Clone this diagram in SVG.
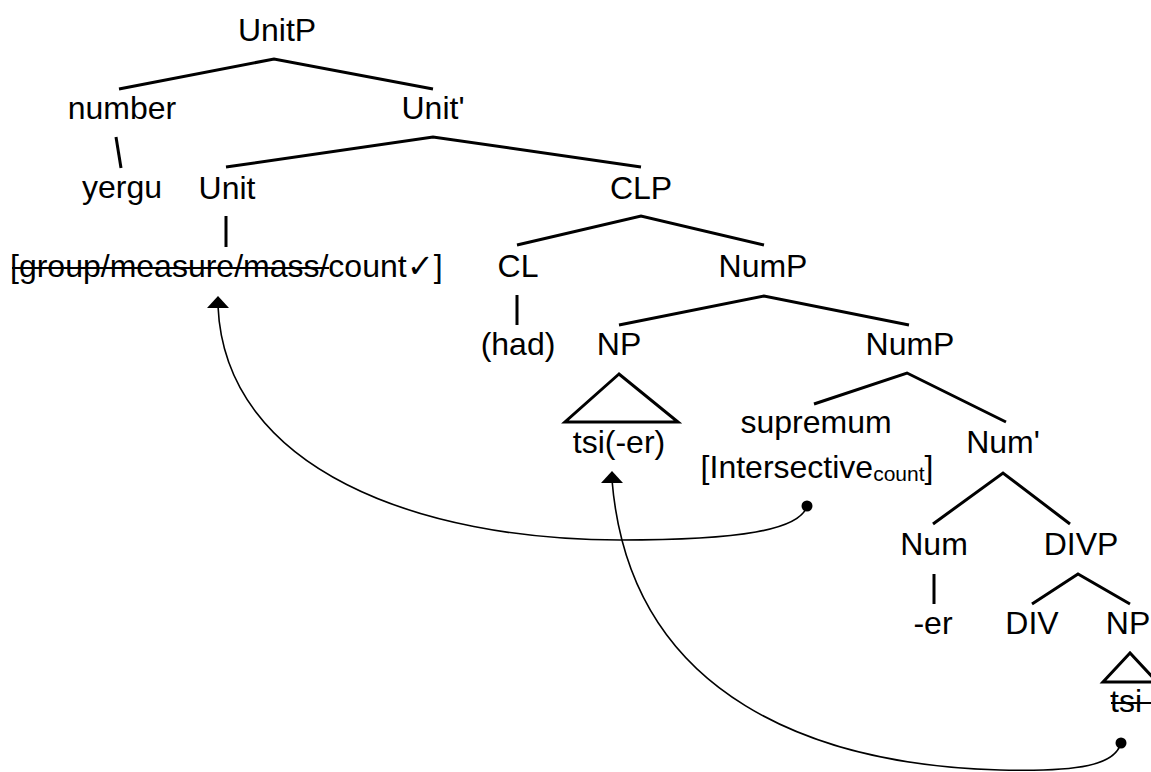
<svg xmlns="http://www.w3.org/2000/svg" width="1151" height="772" viewBox="0 0 1151 772">
<defs>
<style>
text{font-family:"Liberation Sans",Arial,sans-serif;font-size:32px;fill:#000;text-anchor:middle}
.branch{stroke:#000;stroke-width:3;fill:none;stroke-linecap:butt}
.mv{stroke:#000;stroke-width:1.6;fill:none}
.head{fill:#000}
.strike{stroke:#000;stroke-width:1.8}
</style>
</defs>
<rect width="1151" height="772" fill="#fff"/>
<g id="connectors">
<path class="branch" d="M119,89 L274,59 L433,89"/>
<path class="branch" d="M116,137 L121,168"/>
<path class="branch" d="M226,167 L433,137 L641,167"/>
<path class="branch" d="M226,216 L226,247"/>
<path class="branch" d="M517,245 L641,216 L764,245"/>
<path class="branch" d="M517,295 L517,325"/>
<path class="branch" d="M619,325 L764,296 L909,325"/>
<path class="branch" d="M814,404 L907,373 L1006,422"/>
<path class="branch" d="M933,524 L1003,473 L1070,524"/>
<path class="branch" d="M934,574 L934,604"/>
<path class="branch" d="M1032,604 L1078,574 L1130,604"/>
<path class="mv" d="M807,506 C800,530 740,540 620,540 C420,540 225,470 218,306"/>
<path class="head" d="M218,296 L207,308 L229,308 Z"/>
<circle class="head" cx="807" cy="506" r="5.5"/>
<path class="mv" d="M1121,743 C1115,765 1080,772 1000,770 C820,765 630,700 612,480"/>
<path class="head" d="M612,471 L601,483 L623,483 Z"/>
<circle class="head" cx="1121" cy="743" r="5.5"/>
</g>
<g id="n-UnitP"><text x="277" y="41">UnitP</text></g>
<g id="n-number"><text x="122" y="119">number</text></g>
<g id="n-Unitbar"><text x="433" y="119">Unit'</text></g>
<g id="n-yergu"><text x="122" y="198">yergu</text></g>
<g id="n-Unit"><text x="227" y="199">Unit</text></g>
<g id="n-CLP"><text x="641" y="199">CLP</text></g>
<g id="n-features"><text x="10" y="277" style="text-anchor:start">[group/measure/mass/count✓]</text><line class="strike" x1="12" y1="268" x2="329" y2="268"/></g>
<g id="n-CL"><text x="518" y="277">CL</text></g>
<g id="n-NumP1"><text x="763" y="277">NumP</text></g>
<g id="n-had"><text x="518" y="355">(had)</text></g>
<g id="n-NP1"><text x="619" y="355">NP</text></g>
<g id="n-NumP2"><text x="910" y="355">NumP</text></g>
<g id="n-NP1-tri"><path class="branch" d="M619,374 L565,422 L678,422 Z"/><text x="619" y="453">tsi(-er)</text></g>
<g id="n-supremum"><text x="816" y="433">supremum</text><text x="817" y="478">[Intersective<tspan style="font-size:21px" dy="3">count</tspan><tspan dy="-3">]</tspan></text></g>
<g id="n-Numbar"><text x="1003" y="453">Num'</text></g>
<g id="n-Num"><text x="934" y="555">Num</text></g>
<g id="n-DIVP"><text x="1081" y="555">DIVP</text></g>
<g id="n-er"><text x="933" y="634">-er</text></g>
<g id="n-DIV"><text x="1032" y="634">DIV</text></g>
<g id="n-NP2"><text x="1128" y="634">NP</text></g>
<g id="n-NP2-tri"><path class="branch" d="M1130,653 L1103,682 L1157,682 Z"/><text x="1126" y="712">tsi</text><line class="strike" x1="1111" y1="703" x2="1151" y2="703"/></g>
</svg>
